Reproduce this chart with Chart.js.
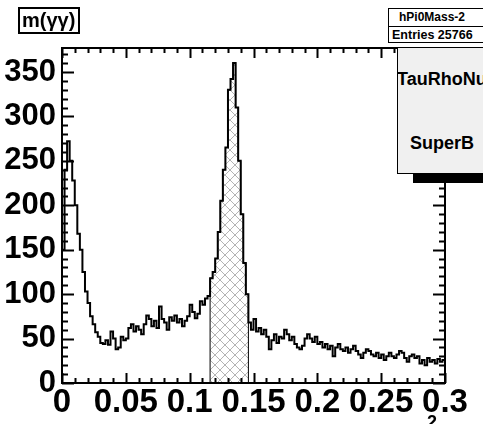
<!DOCTYPE html>
<html><head><meta charset="utf-8">
<script src="https://cdn.jsdelivr.net/npm/chart.js@4"></script>
<style>
html,body{margin:0;padding:0;background:#fff;overflow:hidden;}
#wrap{position:relative;width:483px;height:424px;overflow:hidden;}
canvas{position:absolute;left:0;top:0;}
.t{position:absolute;font-family:"Liberation Sans",Arial,sans-serif;font-weight:bold;color:#000;white-space:nowrap;box-sizing:border-box;}
</style></head><body>
<div id="wrap">
<canvas id="c" width="483" height="424"></canvas>
<div class="t" style="left:18px;top:7px;width:62px;height:27px;border:2px solid #000;font-size:20px;line-height:22px;padding-left:2px;">m(γγ)</div>
<div class="t" style="left:388px;top:8px;width:110px;height:35px;border:1.5px solid #000;background:#fff;"></div>
<div class="t" style="left:388px;top:26px;width:110px;height:0;border-top:1.5px solid #000;"></div>
<div class="t" style="left:399px;top:10px;font-size:12px;line-height:14px;">hPi0Mass-2</div>
<div class="t" style="left:392px;top:28px;font-size:12.5px;line-height:14px;">Entries 25766</div>
<div class="t" style="left:413px;top:172px;width:80px;height:11px;background:#000;"></div>
<div class="t" style="left:397px;top:47px;width:100px;height:127px;border:1.5px solid #000;background:#f0f0f0;"></div>
<div class="t" style="left:397px;top:69px;font-size:18px;line-height:20px;">TauRhoNu</div>
<div class="t" style="left:410px;top:133px;font-size:18px;line-height:20px;">SuperB</div>
<div class="t" style="left:427px;top:412px;font-size:18px;line-height:20px;">2</div>
</div>
<script>
// ---- data ----
const xMin = 0, xMax = 0.3;
const yMin = 0, yMax = 377;
const xTickLabels = [0, 0.05, 0.1, 0.15, 0.2, 0.25, 0.3];
const yTickLabels = [0, 50, 100, 150, 200, 250, 300, 350];
const signalLo = 0.116, signalHi = 0.146;
const counts = [
  150, 240, 272, 250, 228, 200, 168, 150, 125, 103, 90, 75, 66, 57, 52,
  45, 44, 48, 43, 58, 50, 38, 40, 52, 48, 50, 62, 66, 58, 64,
  60, 55, 66, 76, 72, 64, 70, 62, 86, 72, 68, 60, 74, 70, 76,
  68, 72, 64, 70, 75, 88, 80, 73, 78, 92, 88, 95, 98,
  118, 125, 140, 170, 205, 240, 265, 330, 342, 360, 310, 250, 190, 135, 100,
  68, 60, 72, 58, 62, 55, 60, 52, 38, 48, 55, 45, 52, 50, 60,
  55, 48, 52, 44, 40, 38, 42, 50, 55, 50, 46, 52, 44, 46, 40,
  44, 38, 42, 30, 40, 44, 38, 36, 40, 34, 38, 42, 36, 32, 28,
  34, 38, 36, 32, 30, 34, 28, 32, 26, 30, 34, 30, 28, 32, 36,
  34, 28, 24, 30, 32, 28, 30, 22, 26, 20, 28, 24, 26, 22, 27,
  24, 26
];
// ---- build ----
const nBins = counts.length;
const binW = (xMax - xMin) / nBins;
const mainPts = counts.map((c, i) => ({x: xMin + i * binW, y: c}));
mainPts.push({x: xMax, y: counts[nBins - 1]});
const kLo = Math.round((signalLo - xMin) / binW), kHi = Math.round((signalHi - xMin) / binW) - 1;
const hatchPts = [{x: signalLo, y: 0}];
for (let k = kLo; k <= kHi; k++) hatchPts.push({x: xMin + k * binW, y: counts[k]});
hatchPts.push({x: signalHi, y: counts[kHi]});
hatchPts.push({x: signalHi, y: 0});

const pc = document.createElement('canvas');
pc.width = 10; pc.height = 10;
const p = pc.getContext('2d');
p.strokeStyle = '#b4b4b4'; p.lineWidth = 1;
p.beginPath(); p.moveTo(0, 0); p.lineTo(10, 10); p.moveTo(10, 0); p.lineTo(0, 10); p.stroke();
const ctx0 = document.getElementById('c').getContext('2d');
const hatch = ctx0.createPattern(pc, 'repeat');

const framePlugin = {
  id: 'rootFrame',
  afterDraw(chart) {
    const {ctx, chartArea: a, scales: {x, y}} = chart;
    ctx.save();
    ctx.strokeStyle = '#000';
    ctx.lineWidth = 2;
    ctx.beginPath();
    for (let i = 0; i <= Math.round(yMax / 10); i++) {
      const v = i * 10; if (v > yMax) break;
      const py = Math.round(y.getPixelForValue(v)) + 0.5;
      const L = (v % 50 === 0) ? 12 : 6;
      ctx.moveTo(a.left, py); ctx.lineTo(a.left + L, py);
      ctx.moveTo(a.right, py); ctx.lineTo(a.right - L, py);
    }
    for (let i = 0; i <= 30; i++) {
      const v = xMin + i * 0.01;
      const px = Math.round(x.getPixelForValue(v)) + 0.5;
      const L = (i % 5 === 0) ? 10 : 5;
      ctx.moveTo(px, a.bottom); ctx.lineTo(px, a.bottom - L);
      ctx.moveTo(px, a.top); ctx.lineTo(px, a.top + L);
    }
    ctx.stroke();
    ctx.strokeRect(a.left, a.top, a.right - a.left, a.bottom - a.top);
    ctx.restore();
  }
};

new Chart(ctx0, {
  type: 'line',
  data: {
    datasets: [
      {data: mainPts, stepped: 'before', borderColor: '#000', borderWidth: 2, pointRadius: 0, fill: false},
      {data: hatchPts, stepped: 'before', borderColor: '#000', borderWidth: 1, pointRadius: 0, fill: 'origin', backgroundColor: hatch}
    ]
  },
  options: {
    responsive: false, animation: false, devicePixelRatio: 1,
    layout: {padding: {top: 48, right: 38, left: 0, bottom: 0}},
    plugins: {legend: {display: false}, tooltip: {enabled: false}},
    scales: {
      x: {
        type: 'linear', min: xMin, max: xMax,
        grid: {display: false, drawTicks: false}, border: {display: false},
        afterBuildTicks: s => { s.ticks = xTickLabels.map(v => ({value: v})); },
        afterFit: s => { s.height = 41; },
        ticks: {autoSkip: false, maxRotation: 0, minRotation: 0, padding: 0, color: '#000',
          font: {family: 'Liberation Sans', weight: 'bold', size: 33},
          callback: v => String(v)}
      },
      y: {
        type: 'linear', min: yMin, max: yMax,
        grid: {display: false, drawTicks: false}, border: {display: false},
        afterBuildTicks: s => { s.ticks = yTickLabels.map(v => ({value: v})); },
        afterFit: s => { s.width = 62; },
        ticks: {autoSkip: false, padding: 6, color: '#000',
          font: {family: 'Liberation Sans', weight: 'bold', size: 31}}
      }
    }
  },
  plugins: [framePlugin]
});
</script>
</body></html>
